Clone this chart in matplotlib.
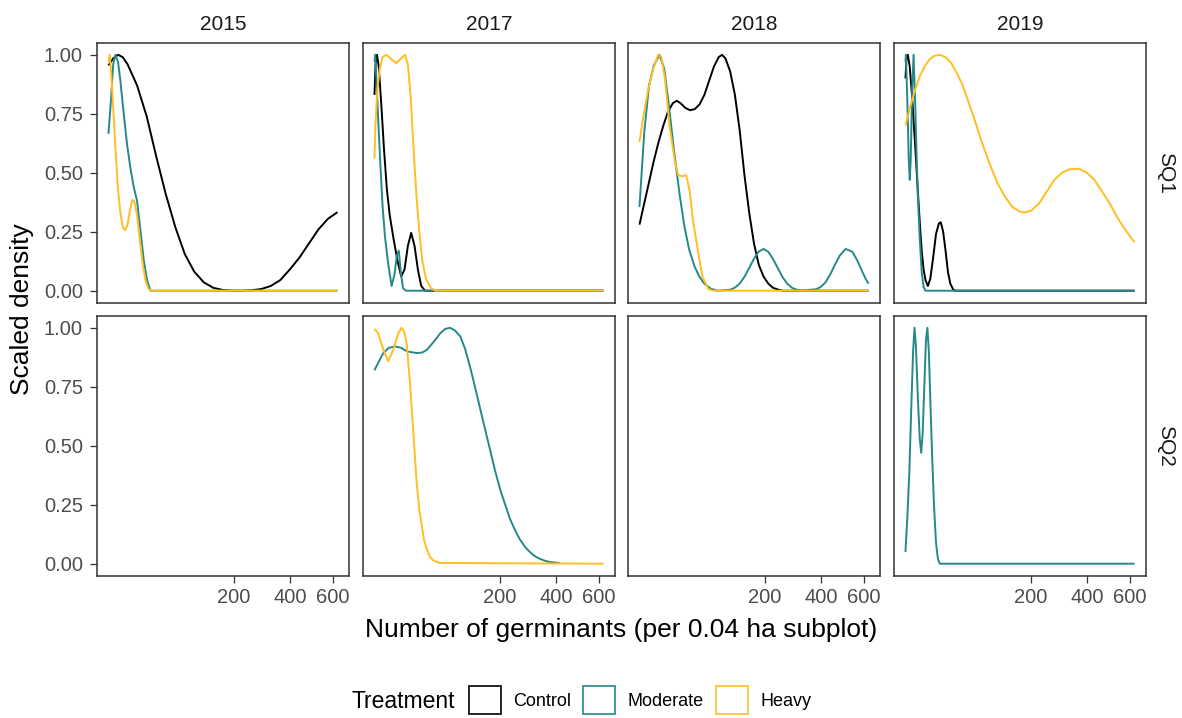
import numpy as np
import matplotlib
matplotlib.use("Agg")
import matplotlib.pyplot as plt
from matplotlib.patches import Patch

plt.rcParams["font.family"] = ["Liberation Sans", "DejaVu Sans"]

# ── colours / labels ──────────────────────────────────────────────────────────
COLORS = {"Control": "black", "Moderate": "#25898A", "Heavy": "#FFBE22"}
years = ["2015", "2017", "2018", "2019"]
quads = ["SQ1", "SQ2"]
treatments = ["Control", "Moderate", "Heavy"]
x_ticks = [200, 400, 600]
y_ticks = [0.00, 0.25, 0.50, 0.75, 1.00]
x_range = [1, 625]

# ── data: germinant counts (x) and scaled density (y) ─────────────────────────
# 2015 / SQ1
x15_sq1_control = [1, 2.25, 4, 6.25, 9, 16, 25, 36, 49, 64, 81, 100, 121, 144, 169, 196,
                   225, 256, 289, 324, 361, 400, 441, 484, 529, 576, 625]
y15_sq1_control = [0.955, 0.985, 1.0, 0.99, 0.96, 0.87, 0.74, 0.57, 0.41, 0.27, 0.155, 0.08,
                   0.035, 0.012, 0.003, 0.0, 0.0, 0.002, 0.007, 0.02, 0.045, 0.09, 0.14, 0.2,
                   0.26, 0.305, 0.333]
x15_sq1_moderate = [1, 1.56, 2.25, 2.96, 4, 5.06, 6.76, 8.7, 10.89, 13.32, 16, 18.92, 22.09,
                    25.5, 29.16, 625]
y15_sq1_moderate = [0.665, 0.8, 0.96, 1.0, 0.97, 0.89, 0.75, 0.62, 0.52, 0.44, 0.38, 0.255,
                    0.128, 0.044, 0.0, 0.0]
x15_sq1_heavy = [1, 1.32, 1.82, 2.4, 3.06, 4, 5.06, 6.25, 7.56, 9, 10.56, 12.25, 13.69, 16,
                 18.49, 21.16, 24.01, 27.04, 30.25, 625]
y15_sq1_heavy = [0.97, 1.0, 0.88, 0.74, 0.59, 0.43, 0.33, 0.27, 0.256, 0.28, 0.34, 0.385,
                 0.38, 0.32, 0.21, 0.11, 0.04, 0.008, 0.0, 0.0]

# 2017 / SQ1
x17_sq1_control = [1, 1.25, 1.61, 2.1, 2.89, 4, 5.29, 6.76, 9, 11.56, 14.44, 17.22, 20.25,
                   23.52, 27.04, 30.8, 34.81, 39.69, 625]
y17_sq1_control = [0.83, 0.96, 1.0, 0.95, 0.8, 0.6, 0.43, 0.32, 0.22, 0.13, 0.06, 0.09, 0.19,
                   0.245, 0.19, 0.09, 0.02, 0.0, 0.0]
x17_sq1_moderate = [1, 1.17, 1.44, 1.96, 2.56, 3.42, 4.41, 6.0, 7.84, 9.61, 11.22, 12.6,
                    14.06, 16, 18.49, 625]
y17_sq1_moderate = [0.97, 1.0, 0.9, 0.72, 0.55, 0.36, 0.23, 0.11, 0.02, 0.07, 0.15, 0.17,
                    0.08, 0.01, 0.0, 0.0]
x17_sq1_heavy = [1, 1.21, 1.69, 2.4, 3.42, 5.06, 7.84, 10.89, 14.44, 17.64, 20.25, 23.04,
                 26.01, 29.16, 32.49, 36, 40.96, 47.61, 54.76, 625]
y17_sq1_heavy = [0.56, 0.7, 0.85, 0.94, 0.99, 1.0, 0.98, 0.965, 0.985, 1.0, 0.96, 0.82, 0.6,
                 0.4, 0.25, 0.13, 0.05, 0.012, 0.0, 0.0]

# 2018 / SQ1
x18_sq1_control = [1, 2.25, 4, 6.25, 9, 12.25, 16, 20.25, 24.01, 28.09, 33.64, 39.69, 46.24,
                   53.29, 60.84, 68.89, 77.44, 86.49, 93.12, 100, 110.25, 121, 132.25, 144,
                   156.25, 169, 182.25, 196, 210.25, 225, 240.25, 256, 625]
y18_sq1_control = [0.28, 0.37, 0.46, 0.55, 0.63, 0.7, 0.76, 0.795, 0.805, 0.795, 0.775, 0.765,
                   0.77, 0.79, 0.83, 0.89, 0.95, 0.99, 1.0, 0.985, 0.93, 0.83, 0.68, 0.49, 0.33,
                   0.2, 0.11, 0.06, 0.03, 0.012, 0.005, 0.0, 0.0]
x18_sq1_moderate = [1, 2.25, 4, 6.25, 9.61, 12.96, 16.81, 21.16, 27.04, 32.49, 38.44, 46.24,
                    53.29, 60.84, 72.25, 84.64, 110.25, 121, 132.25, 144, 156.25, 169,
                    182.25, 196, 210.25, 225, 240.25, 256, 272.25, 289, 306.25, 324, 380.25,
                    400, 420.25, 441, 462.25, 484, 510.76, 542.89, 566.44, 590.49, 610.09, 625]
y18_sq1_moderate = [0.355, 0.67, 0.87, 0.955, 1.0, 0.94, 0.78, 0.6, 0.41, 0.275, 0.175, 0.1,
                    0.058, 0.03, 0.008, 0.0, 0.004, 0.013, 0.03, 0.059, 0.097, 0.136, 0.166,
                    0.177, 0.165, 0.134, 0.095, 0.057, 0.029, 0.012, 0.004, 0.001, 0.006,
                    0.016, 0.036, 0.07, 0.112, 0.15, 0.177, 0.165, 0.13, 0.085, 0.05, 0.03]
x18_sq1_heavy = [1, 1.96, 3.61, 5.76, 8.7, 10.89, 13.32, 17.22, 22.09, 25.5, 30.25, 34.81,
                 39.06, 43.56, 50.41, 57.76, 67.24, 75.69, 625]
y18_sq1_heavy = [0.63, 0.735, 0.85, 0.935, 1.0, 0.99, 0.905, 0.7, 0.55, 0.49, 0.485, 0.49,
                 0.425, 0.3, 0.175, 0.06, 0.008, 0.0, 0.0]

# 2019 / SQ1
x19_sq1_control = [1, 1.21, 1.56, 2.1, 2.89, 3.61, 4.41, 5.29, 6.25, 7.29, 8.41, 9.61, 11.22,
                   12.96, 15.21, 17.64, 20.25, 22.09, 24.5, 27.04, 29.7, 32.49, 36, 38.44, 625]
y19_sq1_control = [0.9, 0.98, 1.0, 0.95, 0.82, 0.69, 0.56, 0.42, 0.29, 0.17, 0.09, 0.045,
                   0.02, 0.05, 0.14, 0.24, 0.285, 0.29, 0.25, 0.17, 0.08, 0.03, 0.005, 0.0, 0.0]
x19_sq1_moderate = [1, 1.1, 1.44, 1.82, 2.1, 2.4, 2.89, 3.42, 4, 4.62, 5.29, 6.25, 7.29,
                    8.41, 9.61, 625]
y19_sq1_moderate = [0.97, 1.0, 0.8, 0.55, 0.47, 0.55, 0.85, 1.0, 0.82, 0.6, 0.4, 0.22, 0.08,
                    0.015, 0.0, 0.0]
x19_sq1_heavy = [1, 2.25, 4, 6.25, 9, 12.25, 16, 21.16, 27.04, 33.64, 40.96, 49, 57.76,
                 67.24, 81, 96.04, 112.36, 129.96, 148.84, 169, 182.25, 201.64, 225, 249.64,
                 275.56, 302.76, 331.24, 368.64, 400, 432.64, 466.56, 501.76, 538.24, 576, 625]
y19_sq1_heavy = [0.70, 0.78, 0.85, 0.91, 0.95, 0.98, 0.995, 1.0, 0.99, 0.965, 0.92, 0.87, 0.8,
                 0.73, 0.63, 0.54, 0.46, 0.4, 0.355, 0.335, 0.332, 0.34, 0.37, 0.42, 0.47,
                 0.5, 0.515, 0.517, 0.5, 0.47, 0.42, 0.37, 0.31, 0.26, 0.205]

# 2017 / SQ2
x17_sq2_moderate = [1, 2.25, 3.72, 6.25, 9.92, 14.44, 19.36, 29.16, 36, 42.25, 51.84, 62.41,
                    70.56, 79.21, 88.36, 100, 110.25, 121, 132.25, 144, 156.25, 171.61,
                    184.96, 201.64, 216.09, 231.04, 246.49, 262.44, 282.24, 299.29, 316.84,
                    334.89, 357.21, 376.36, 416.16]
y17_sq2_moderate = [0.82, 0.86, 0.893, 0.915, 0.921, 0.915, 0.9, 0.893, 0.895, 0.907, 0.94,
                    0.977, 0.995, 1.0, 0.99, 0.963, 0.91, 0.837, 0.755, 0.67, 0.585, 0.485,
                    0.4, 0.31, 0.25, 0.19, 0.145, 0.105, 0.07, 0.049, 0.032, 0.021, 0.012,
                    0.007, 0.003]
x17_sq2_heavy = [1, 1.96, 3.72, 6.0, 8.82, 12.25, 14.82, 16.81, 19.1, 22.28, 25.7, 29.38,
                 32.49, 35.4, 38.44, 41.86, 46.24, 51.27, 61.78, 625]
y17_sq2_heavy = [0.995, 0.977, 0.907, 0.858, 0.907, 0.977, 1.0, 0.985, 0.935, 0.767, 0.556,
                 0.345, 0.23, 0.162, 0.1, 0.063, 0.03, 0.014, 0.003, 0.0]

# 2019 / SQ2
x19_sq2_moderate = [1, 1.44, 1.96, 2.56, 3.24, 3.8, 4.41, 5.29, 6.25, 7.02, 7.84, 9, 9.92,
                    10.89, 11.9, 12.96, 14.44, 16, 17.64, 19.36, 21.16, 625]
y19_sq2_moderate = [0.05, 0.2, 0.38, 0.65, 0.9, 1.0, 0.92, 0.7, 0.53, 0.47, 0.55, 0.78, 0.95,
                    1.0, 0.9, 0.7, 0.45, 0.24, 0.09, 0.02, 0.0, 0.0]

panels = {
    ("2015", "SQ1"): [("Control", x15_sq1_control, y15_sq1_control),
                      ("Moderate", x15_sq1_moderate, y15_sq1_moderate),
                      ("Heavy", x15_sq1_heavy, y15_sq1_heavy)],
    ("2017", "SQ1"): [("Control", x17_sq1_control, y17_sq1_control),
                      ("Moderate", x17_sq1_moderate, y17_sq1_moderate),
                      ("Heavy", x17_sq1_heavy, y17_sq1_heavy)],
    ("2018", "SQ1"): [("Control", x18_sq1_control, y18_sq1_control),
                      ("Moderate", x18_sq1_moderate, y18_sq1_moderate),
                      ("Heavy", x18_sq1_heavy, y18_sq1_heavy)],
    ("2019", "SQ1"): [("Control", x19_sq1_control, y19_sq1_control),
                      ("Moderate", x19_sq1_moderate, y19_sq1_moderate),
                      ("Heavy", x19_sq1_heavy, y19_sq1_heavy)],
    ("2017", "SQ2"): [("Moderate", x17_sq2_moderate, y17_sq2_moderate),
                      ("Heavy", x17_sq2_heavy, y17_sq2_heavy)],
    ("2019", "SQ2"): [("Moderate", x19_sq2_moderate, y19_sq2_moderate)],
}


# ── sqrt x scale ──────────────────────────────────────────────────────────────
def fwd(v):
    v = np.asarray(v, dtype=float)
    return np.sign(v) * np.sqrt(np.abs(v))


def inv(v):
    v = np.asarray(v, dtype=float)
    return np.sign(v) * v ** 2


s_lo, s_hi = fwd(x_range)
pad = 0.05 * (s_hi - s_lo)
xlim = (float(inv(s_lo - pad)), float(inv(s_hi + pad)))

# ── figure ────────────────────────────────────────────────────────────────────
W, H = 1182, 718
fig = plt.figure(figsize=(W / 100, H / 100), dpi=100)
col_left = [97, 363, 628, 894]
row_top = [43, 316]
pw, ph = 252, 259.5

for r, q in enumerate(quads):
    for c, yr in enumerate(years):
        ax = fig.add_axes([col_left[c] / W, 1 - (row_top[r] + ph) / H, pw / W, ph / H])
        ax.set_xscale("function", functions=(fwd, inv))
        for trt, xs, ys in panels.get((yr, q), []):
            ax.plot(xs, ys, color=COLORS[trt], lw=1.4, solid_capstyle="butt")
        ax.set_xlim(*xlim)
        ax.set_ylim(-0.05, 1.05)
        ax.set_xticks(x_ticks, [str(t) for t in x_ticks])
        ax.set_yticks(y_ticks, [f"{t:.2f}" for t in y_ticks])
        ax.minorticks_off()
        for sp in ax.spines.values():
            sp.set_color("#333333")
            sp.set_linewidth(1.1)
        ax.tick_params(length=5.2, width=0.9, color="#333333", labelcolor="#4D4D4D",
                       labelsize=14.5)
        ax.tick_params(axis="y", pad=5)
        ax.tick_params(axis="x", pad=4)
        if c > 0:
            ax.tick_params(left=False, labelleft=False)
        if r == 0:
            ax.tick_params(bottom=False, labelbottom=False)
            fig.text((col_left[c] + pw / 2) / W, 1 - 30 / H, yr, ha="center",
                     va="baseline", fontsize=15, color="#1A1A1A")
        if c == len(years) - 1:
            fig.text(1166 / W, 1 - (row_top[r] + ph / 2) / H, q, rotation=270,
                     ha="center", va="center", fontsize=15, color="#1A1A1A")

fig.text(22 / W, 1 - 309.5 / H, "Scaled density", rotation=90, ha="center",
         va="center", fontsize=19)
fig.text(621.5 / W, 1 - 637 / H, "Number of germinants (per 0.04 ha subplot)",
         ha="center", va="baseline", fontsize=19)

# ── legend ────────────────────────────────────────────────────────────────────
fig.text(352 / W, 1 - 701 / H, "Treatment", ha="left", va="center", fontsize=16.5)
handles = [Patch(facecolor="white", edgecolor=COLORS[t], linewidth=1.2, label=t)
           for t in treatments]
fig.legend(handles=handles, ncol=3, loc="center left",
           bbox_to_anchor=(469 / W, 1 - 700 / H), frameon=False, fontsize=13,
           handlelength=1.77, handleheight=1.94, handletextpad=0.7,
           columnspacing=0.65, borderpad=0, borderaxespad=0)

fig.savefig("out.png", dpi=100)
